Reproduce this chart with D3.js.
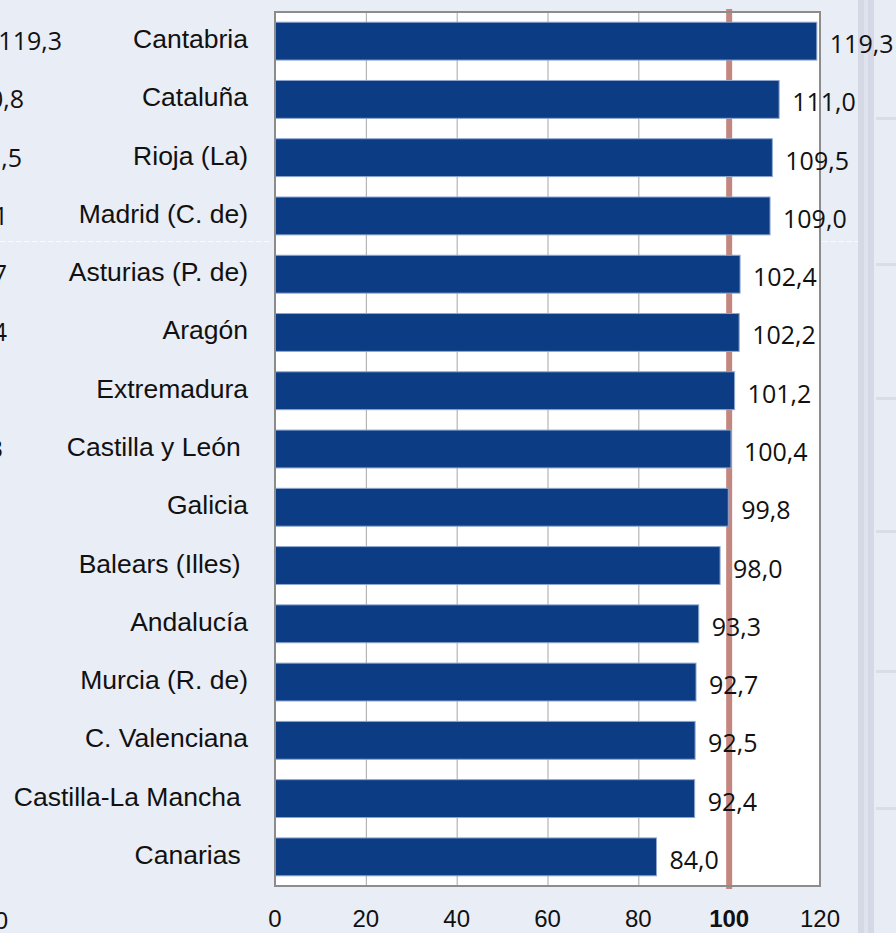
<!DOCTYPE html>
<html>
<head>
<meta charset="utf-8">
<script src="https://cdn.jsdelivr.net/npm/d3@7"></script>
<style>
  html, body { margin: 0; padding: 0; background: #e9edf5; overflow: hidden; }
  svg { display: block; }
  .cat { white-space: pre; }
</style>
</head>
<body>
<svg id="chart" width="896" height="933"></svg>
<script>
// Datos (índice, España = 100)
const regiones = ['Cantabria', 'Cataluña', 'Rioja (La)', 'Madrid (C. de)', 'Asturias (P. de)',
  'Aragón', 'Extremadura', 'Castilla y León ', 'Galicia', 'Balears (Illes) ',
  'Andalucía', 'Murcia (R. de)', 'C. Valenciana', 'Castilla-La Mancha ', 'Canarias '];
const valores = [119.3, 111.0, 109.5, 109.0, 102.4, 102.2, 101.2, 100.4, 99.8, 98.0,
  93.3, 92.7, 92.5, 92.4, 84.0];
const ticksX = [0, 20, 40, 60, 80, 100, 120];
const referencia = 100;

// Restos recortados del gráfico vecino (borde izquierdo)
const vecinoTextos = ['119,3', '0,8', ',5', '1', '7', '4', '1', '3'];
const vecinoFin = [62, 24, 22, 8, 7, 7, 4, 3];

const svg = d3.select('#chart');
const plot = { left: 275, right: 820, top: 12, bottom: 886 };

const x = d3.scaleLinear().domain([0, 120]).range([plot.left, plot.right]);
const y = d3.scaleBand().domain(regiones).range([plot.top, plot.bottom])
  .paddingInner(0.35).paddingOuter(0.175);

const fmt = v => v.toFixed(1).replace('.', ',');

// Decoración de la página (tira derecha y salto de página)
svg.append('rect').attr('x', 858).attr('y', 0).attr('width', 16).attr('height', 933).attr('fill', '#d4d9e5');
svg.append('rect').attr('x', 864).attr('y', 0).attr('width', 4).attr('height', 933).attr('fill', '#dfe3ee');
svg.append('rect').attr('x', 874).attr('y', 0).attr('width', 22).attr('height', 933).attr('fill', '#e8ecf4');
[117, 263, 397, 530, 670, 807].forEach(yy => {
  svg.append('rect').attr('x', 876).attr('y', yy).attr('width', 20).attr('height', 3).attr('fill', '#d9dde8');
});
svg.append('line').attr('x1', 0).attr('x2', 270).attr('y1', 241.5).attr('y2', 241.5)
  .attr('stroke', '#ffffff').attr('stroke-dasharray', '6,2').attr('opacity', 0.8);
svg.append('line').attr('x1', 822).attr('x2', 858).attr('y1', 241.5).attr('y2', 241.5)
  .attr('stroke', '#ffffff').attr('stroke-dasharray', '6,2').attr('opacity', 0.8);

// Área de trazado
svg.append('rect')
  .attr('x', plot.left).attr('y', plot.top)
  .attr('width', plot.right - plot.left).attr('height', plot.bottom - plot.top)
  .attr('fill', '#ffffff');

// Rejilla
svg.append('g').selectAll('line').data(ticksX.slice(1, -1)).join('line')
  .attr('x1', d => x(d) + 0.5).attr('x2', d => x(d) + 0.5)
  .attr('y1', plot.top).attr('y2', plot.bottom)
  .attr('stroke', '#a6a6a6').attr('stroke-width', 1);

// Línea de referencia (100)
svg.append('line')
  .attr('x1', x(referencia)).attr('x2', x(referencia))
  .attr('y1', 9).attr('y2', 889)
  .attr('stroke', '#c4877f').attr('stroke-width', 6);

// Barras
svg.append('g').selectAll('rect').data(valores).join('rect')
  .attr('x', x(0))
  .attr('y', (d, i) => y(regiones[i]))
  .attr('width', d => x(d) - x(0))
  .attr('height', y.bandwidth())
  .attr('fill', '#0c3c84')
  .attr('stroke', '#8ea6cf').attr('stroke-width', 1);

// Marco
svg.append('rect')
  .attr('x', plot.left).attr('y', plot.top)
  .attr('width', plot.right - plot.left).attr('height', plot.bottom - plot.top)
  .attr('fill', 'none').attr('stroke', '#8c8c8c').attr('stroke-width', 2);

// Etiquetas de valor
svg.append('g').selectAll('text').data(valores).join('text')
  .attr('x', d => x(d) + 13)
  .attr('y', (d, i) => y(regiones[i]) + y.bandwidth() / 2 + 12)
  .attr('font-family', '"Open Sans", sans-serif')
  .attr('font-size', 25)
  .attr('fill', '#111')
  .text(fmt);

// Etiquetas de categoría (algunas llevan espacio final, como en el original)
svg.append('g').selectAll('text').data(regiones).join('text')
  .attr('class', 'cat')
  .attr('x', 248)
  .attr('y', d => y(d) + y.bandwidth() / 2 + 7)
  .attr('text-anchor', 'end')
  .attr('font-family', '"Liberation Sans", Arial, sans-serif')
  .attr('font-size', 26.5)
  .attr('fill', '#111')
  .text(d => d);

// Eje X
svg.append('g').selectAll('text').data(ticksX).join('text')
  .attr('x', d => x(d))
  .attr('y', 927)
  .attr('text-anchor', 'middle')
  .attr('font-family', '"Liberation Sans", Arial, sans-serif')
  .attr('font-size', 24)
  .attr('font-weight', d => d === referencia ? 700 : 400)
  .attr('fill', '#111')
  .text(d => d);

// Restos del gráfico vecino
svg.append('g').selectAll('text').data(vecinoTextos).join('text')
  .attr('x', (d, i) => vecinoFin[i])
  .attr('y', (d, i) => y(regiones[i]) + y.bandwidth() / 2 + 9)
  .attr('text-anchor', 'end')
  .attr('font-family', '"Open Sans", sans-serif')
  .attr('font-size', 25)
  .attr('fill', '#111')
  .text(d => d);
svg.append('text')
  .attr('x', 8).attr('y', 929)
  .attr('text-anchor', 'end')
  .attr('font-family', '"Liberation Sans", Arial, sans-serif')
  .attr('font-size', 24)
  .attr('fill', '#111')
  .text('0');
</script>
</body>
</html>
